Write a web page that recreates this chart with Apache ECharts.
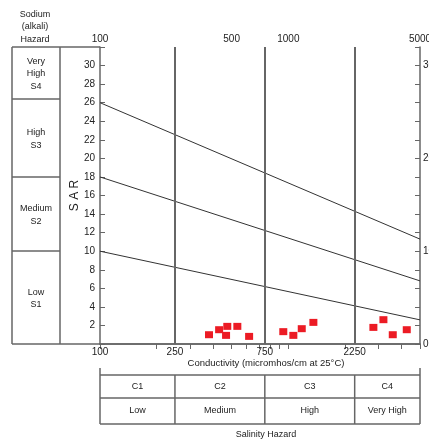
<!DOCTYPE html>
<html>
<head>
<meta charset="utf-8">
<script src="https://cdn.jsdelivr.net/npm/echarts@6/dist/echarts.min.js"></script>
<style>
  html, body { margin: 0; padding: 0; background: #fff; }
  #chart { width: 429px; height: 442px; }
</style>
</head>
<body>
<div id="chart"></div>
<script>
// 样本点：电导率 (micromhos/cm) 与 SAR
const conductivity = [379, 429, 474, 536, 467, 619, 940, 1063, 1178, 1358, 2828, 3197, 3584, 4253]
const sarValues = [1.0, 1.54, 1.9, 1.9, 0.93, 0.82, 1.33, 0.93, 1.65, 2.33, 1.79, 2.62, 1.0, 1.54]

// 盐害分级界线
const classBounds = [250, 750, 2250]
const ecMin = 100
const ecMax = 5000

// 钠害分级斜线：EC=100 与 EC=5000 处的 SAR
const lineSarStart = [26, 18, 10]
const lineSarEnd = [11.3, 6.8, 2.6]

// 坐标轴刻度
const topLabels = [100, 500, 1000, 5000]
const topTicks = [100, 200, 300, 400, 500, 600, 700, 800, 900, 1000, 2000, 3000, 4000, 5000]
const bottomLabels = [100, 250, 750, 2250]
const leftLabels = [2, 4, 6, 8, 10, 12, 14, 16, 18, 20, 22, 24, 26, 28, 30]
const rightLabels = [0, 10, 20, 30]

// 表格文字
const salinityClasses = ['C1', 'C2', 'C3', 'C4']
const salinityNames = ['Low', 'Medium', 'High', 'Very High']
const sodiumNames = ['Very\nHigh\nS4', 'High\nS3', 'Medium\nS2', 'Low\nS1']

const FONT = '"Liberation Sans", Arial, sans-serif'
const LINE = '#666'
const TEXT = '#222'

const chart = echarts.init(document.getElementById('chart'))

const lineSeries = lineSarStart.map((s, i) => ({
  type: 'line',
  xAxisIndex: 0,
  yAxisIndex: 0,
  data: [[ecMin, s], [ecMax, lineSarEnd[i]]],
  symbol: 'none',
  silent: true,
  lineStyle: { color: '#333', width: 1 },
  z: 3
}))

const plainNum = v => String(v)

const option = {
  animation: false,
  backgroundColor: '#fff',
  grid: { left: 100, top: 47, width: 320, height: 297, outerBoundsMode: 'none', containLabel: false },
  xAxis: [
    {
      type: 'log',
      min: ecMin,
      max: ecMax,
      position: 'bottom',
      axisLine: { lineStyle: { color: LINE, width: 1.5 } },
      axisTick: { show: false },
      minorTick: { show: false },
      splitLine: { show: false },
      axisLabel: {
        customValues: bottomLabels,
        formatter: plainNum,
        color: TEXT,
        fontFamily: FONT,
        fontSize: 10,
        margin: 3
      }
    },
    {
      type: 'log',
      min: ecMin,
      max: ecMax,
      position: 'top',
      axisLine: { lineStyle: { color: LINE, width: 1.5 } },
      axisTick: {
        customValues: topTicks,
        inside: true,
        length: 5,
        lineStyle: { color: LINE, width: 1 }
      },
      splitLine: { show: false },
      axisLabel: {
        customValues: topLabels,
        formatter: plainNum,
        color: TEXT,
        fontFamily: FONT,
        fontSize: 10,
        margin: 3
      }
    }
  ],
  yAxis: [
    {
      type: 'value',
      min: 0,
      max: 32,
      interval: 2,
      position: 'left',
      name: 'S A R',
      nameLocation: 'middle',
      nameGap: 19,
      nameMoveOverlap: false,
      nameRotate: 90,
      nameTextStyle: { color: TEXT, fontFamily: FONT, fontSize: 12 },
      axisLine: { lineStyle: { color: LINE, width: 1.5 } },
      axisTick: { inside: true, length: 5, lineStyle: { color: LINE } },
      splitLine: { show: false },
      axisLabel: {
        customValues: leftLabels,
        color: TEXT,
        fontFamily: FONT,
        fontSize: 10,
        margin: 5
      }
    },
    {
      type: 'value',
      min: 0,
      max: 32,
      interval: 2,
      position: 'right',
      axisLine: { show: true, lineStyle: { color: LINE, width: 1.5 } },
      axisTick: { show: true, inside: true, length: 5, lineStyle: { color: LINE } },
      splitLine: { show: false },
      axisLabel: {
        customValues: rightLabels,
        color: TEXT,
        fontFamily: FONT,
        fontSize: 10,
        margin: 3
      }
    }
  ],
  series: [
    {
      type: 'line',
      xAxisIndex: 0,
      yAxisIndex: 0,
      data: [],
      silent: true,
      markLine: {
        silent: true,
        symbol: 'none',
        label: { show: false },
        lineStyle: { color: LINE, width: 2, type: 'solid' },
        data: classBounds.map(v => ({ xAxis: v }))
      }
    },
    ...lineSeries,
    {
      type: 'scatter',
      xAxisIndex: 0,
      yAxisIndex: 0,
      symbol: 'rect',
      symbolSize: [8, 7],
      itemStyle: { color: '#ec1b24', opacity: 1 },
      data: conductivity.map((c, i) => [c, sarValues[i]]),
      z: 5
    }
  ]
}

chart.setOption(option)

// 表格与左侧钠害分区（位置随坐标轴换算）
const px = v => chart.convertToPixel({ xAxisIndex: 0 }, v)
const colEdges = [ecMin, ...classBounds, ecMax].map(px)
const plotTop = 47
const plotBottom = 344
const sodiumEdges = [plotTop, 99, 177, 251, plotBottom]

const graphic = []
const addLine = (x1, y1, x2, y2, w) => graphic.push({
  type: 'line', silent: true,
  shape: { x1, y1, x2, y2 },
  style: { stroke: LINE, lineWidth: w || 1.5 }
})
const addText = (x, y, text, size) => graphic.push({
  type: 'text', silent: true,
  x, y,
  style: {
    text, fill: TEXT, font: (size || 9) + 'px ' + FONT,
    align: 'center', verticalAlign: 'middle', lineHeight: 12.5
  }
})

// 左侧框
addLine(12, plotTop, 100, plotTop)
addLine(12, plotBottom, 100, plotBottom)
addLine(12, plotTop, 12, plotBottom)
addLine(60, plotTop, 60, plotBottom)
sodiumEdges.slice(1, -1).forEach(y => addLine(12, y, 60, y))
sodiumNames.forEach((t, i) => {
  addText(36, (sodiumEdges[i] + sodiumEdges[i + 1]) / 2 + 1, t, 9)
})
addText(35, 27, 'Sodium\n(alkali)\nHazard', 9)

// 底部表格
const tTop = 375
const tMid = 398
const tBot = 424
addText(266, 363, 'Conductivity (micromhos/cm at 25°C)', 9.5)
addLine(colEdges[0], 368, colEdges[0], tTop)
addLine(colEdges[4], 368, colEdges[4], tTop)
addLine(colEdges[0], tTop, colEdges[4], tTop)
addLine(colEdges[0], tMid, colEdges[4], tMid)
addLine(colEdges[0], tBot, colEdges[4], tBot)
colEdges.forEach(x => addLine(x, tTop, x, tBot))
salinityClasses.forEach((c, i) => {
  const cx = (colEdges[i] + colEdges[i + 1]) / 2
  addText(cx, (tTop + tMid) / 2, c, 9)
  addText(cx, (tMid + tBot) / 2, salinityNames[i], 9)
})
addText(266, 435, 'Salinity Hazard', 9)

chart.setOption({ graphic })
</script>
</body>
</html>
